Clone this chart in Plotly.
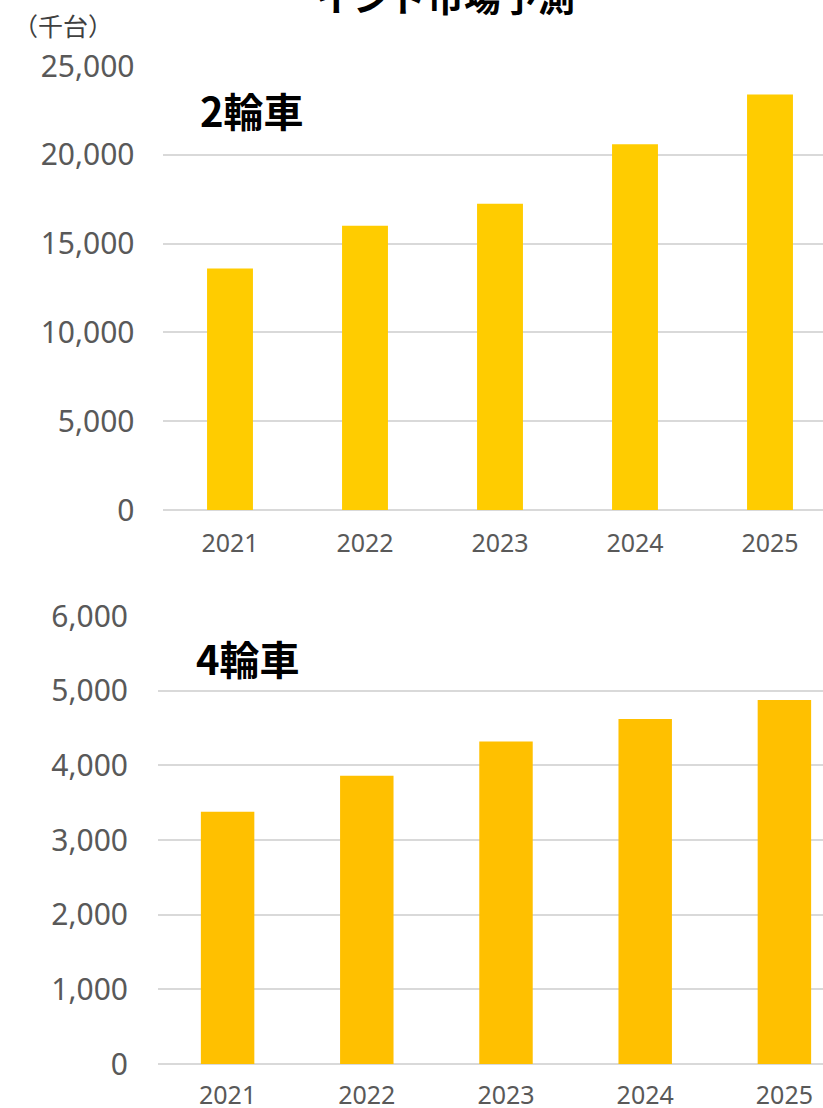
import plotly.graph_objects as go

years = ["2021", "2022", "2023", "2024", "2025"]
two_wheel = [13600, 16000, 17250, 20600, 23400]
four_wheel = [3380, 3860, 4320, 4620, 4875]

top_ticks = [0, 5000, 10000, 15000, 20000, 25000]
bot_ticks = [0, 1000, 2000, 3000, 4000, 5000, 6000]

W, H = 823, 1108

def py(p):
    return 1 - p / H

def px(p):
    return p / W

fig = go.Figure()
fig.add_trace(go.Bar(x=years, y=two_wheel, marker=dict(color="#FFCC00", line=dict(width=0)),
                     width=0.34, xaxis="x", yaxis="y", showlegend=False))
fig.add_trace(go.Bar(x=years, y=four_wheel, marker=dict(color="#FFC000", line=dict(width=0)),
                     width=0.384, xaxis="x2", yaxis="y2", showlegend=False))

tickfont_y = dict(family="Noto Sans, Open Sans, sans-serif", size=30, color="#595959")
tickfont_x = dict(family="Noto Sans, Open Sans, sans-serif", size=25, color="#595959")
grid = "#d9d9d9"

fig.update_layout(
    width=W, height=H,
    margin=dict(l=0, r=0, t=0, b=0, autoexpand=False),
    paper_bgcolor="white", plot_bgcolor="white",
    xaxis=dict(domain=[px(162.5), 1.0], range=[-0.5, -0.5 + (W - 162.5) / 135],
               type="category", anchor="y", showgrid=False, showline=False, ticks="",
               automargin=False, tickfont=tickfont_x, ticklabelstandoff=16),
    yaxis=dict(domain=[py(510), py(66)], range=[0, 25000], anchor="x",
               tickvals=top_ticks, tickformat=",d", showgrid=True, gridcolor=grid, gridwidth=1.5,
               zeroline=True, zerolinecolor=grid, zerolinewidth=1.5, showline=False,
               automargin=False, tickfont=tickfont_y, ticklabelstandoff=27),
    xaxis2=dict(domain=[px(158), 1.0], range=[-0.5, -0.5 + (W - 158) / 139.2],
                type="category", anchor="y2", showgrid=False, showline=False, ticks="",
                automargin=False, tickfont=tickfont_x, ticklabelstandoff=14),
    yaxis2=dict(domain=[py(1064), py(616)], range=[0, 6000], anchor="x2",
                tickvals=bot_ticks, tickformat=",d", showgrid=True, gridcolor=grid, gridwidth=1.5,
                zeroline=True, zerolinecolor=grid, zerolinewidth=1.5, showline=False,
                automargin=False, tickfont=tickfont_y, ticklabelstandoff=29),
)

cjk = "Noto Sans CJK JP, sans-serif"
fig.add_annotation(text="<b>インド市場予測</b>", xref="paper", yref="paper",
                   x=px(445), y=py(-4), xanchor="center", yanchor="middle",
                   showarrow=False, font=dict(family=cjk, size=37, color="#000000"))
fig.add_annotation(text="（千台）", xref="paper", yref="paper",
                   x=px(11), y=py(25), xanchor="left", yanchor="middle",
                   showarrow=False, font=dict(family=cjk, size=25, color="#404040"))
fig.add_annotation(text="<b>2輪車</b>", xref="paper", yref="paper",
                   x=px(198), y=py(110), xanchor="left", yanchor="middle",
                   showarrow=False, font=dict(family=cjk, size=40, color="#000000"))
fig.add_annotation(text="<b>4輪車</b>", xref="paper", yref="paper",
                   x=px(194), y=py(658), xanchor="left", yanchor="middle",
                   showarrow=False, font=dict(family=cjk, size=40, color="#000000"))

fig.write_html("out.html", config={"displayModeBar": False},
               post_script="document.body.style.margin='0';")
